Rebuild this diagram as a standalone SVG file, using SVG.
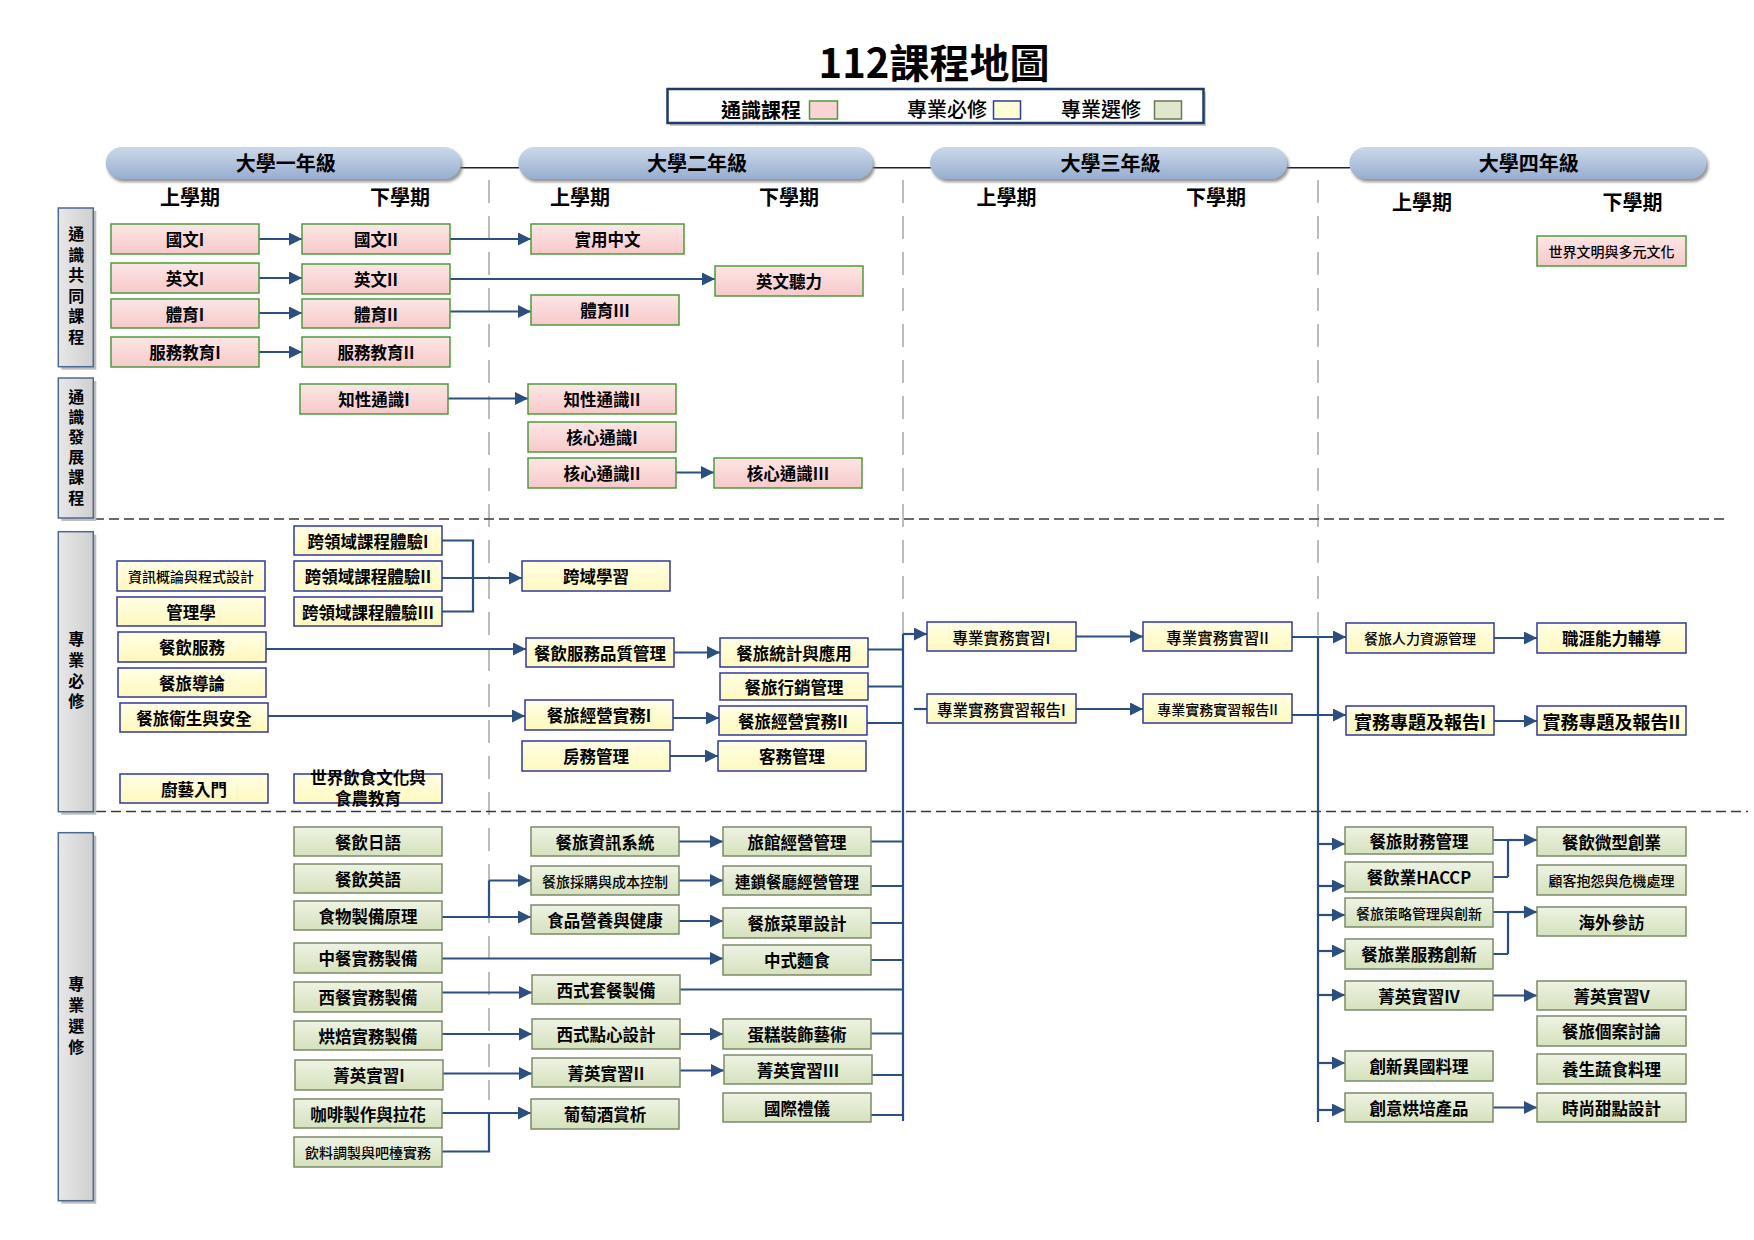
<svg xmlns="http://www.w3.org/2000/svg" width="1754" height="1240" viewBox="0 0 1754 1240">
<style>
text{font-family:"Noto Sans CJK TC","Noto Sans CJK SC",sans-serif;text-anchor:middle;dominant-baseline:central;fill:#000}
.t{font-size:16.5px;font-weight:bold}
.s{font-size:14px;font-weight:500}
.m{font-size:15.5px;font-weight:500}
.hd{font-size:20px;font-weight:bold}
.sd{font-size:16px;font-weight:bold;writing-mode:vertical-rl}
.pk{fill:url(#gPk);stroke:#4f9a3c;stroke-width:1.5}
.yl{fill:url(#gYl);stroke:#2f3a9e;stroke-width:1.5}
.gr{fill:url(#gGr);stroke:#7d8a68;stroke-width:1.5}
.side{fill:url(#gSide);stroke:#4f6a91;stroke-width:1.5}
.sh{fill:#bdbdbd}
.pill{fill:url(#gPill);filter:url(#ds)}
.c{fill:none;stroke:#2b4f81;stroke-width:2.2}
.a{fill:none;stroke:#2b4f81;stroke-width:2.2;marker-end:url(#ar)}
.vd{fill:none;stroke:#a6a6a6;stroke-width:1.5;stroke-dasharray:23 13}
.hdsh{fill:none;stroke:#3a3a3a;stroke-width:1.5;stroke-dasharray:10 5}
.yl2{fill:none;stroke:#222;stroke-width:1.5}
</style>
<defs>
<linearGradient id="gPk" x1="0" y1="0" x2="0" y2="1"><stop offset="0" stop-color="#fde6e6"/><stop offset="1" stop-color="#f7c9c9"/></linearGradient>
<linearGradient id="gYl" x1="0" y1="0" x2="0" y2="1"><stop offset="0" stop-color="#ffffe6"/><stop offset="1" stop-color="#fff8bd"/></linearGradient>
<linearGradient id="gGr" x1="0" y1="0" x2="0" y2="1"><stop offset="0" stop-color="#eef3e3"/><stop offset="1" stop-color="#d5e1bd"/></linearGradient>
<linearGradient id="gSide" x1="0" y1="0" x2="1" y2="0"><stop offset="0" stop-color="#e8e8e8"/><stop offset="1" stop-color="#cfcfcf"/></linearGradient>
<linearGradient id="gPill" x1="0" y1="0" x2="0" y2="1"><stop offset="0" stop-color="#cdd9ea"/><stop offset="1" stop-color="#97aed0"/></linearGradient>
<filter id="ds" x="-5%" y="-30%" width="110%" height="170%"><feDropShadow dx="2" dy="3" stdDeviation="1.5" flood-color="#7a7a7a" flood-opacity="0.8"/></filter>
<marker id="ar" markerUnits="userSpaceOnUse" markerWidth="13" markerHeight="13" refX="13" refY="6.5" orient="auto"><path d="M0,0 L13,6.5 L0,13 z" fill="#2b4f81"/></marker>
</defs>
<rect width="1754" height="1240" fill="#fff"/>

<g id="title">
<text x="934" y="61" style="font-size:40px;font-weight:bold">112課程地圖</text>
</g>

<g id="legend">
<rect x="670" y="92" width="536" height="34" fill="#c8c8c8"/>
<rect x="667.5" y="89" width="536" height="34" fill="#fff" stroke="#1f3a68" stroke-width="2.5"/>
<text x="761" y="109" style="font-size:20px;font-weight:bold">通識課程</text>
<rect x="809.5" y="101" width="28" height="18" fill="#fad4d4" stroke="#4f9a3c" stroke-width="1.5"/>
<text x="947" y="108" style="font-size:20px;font-weight:500">專業必修</text>
<rect x="993.5" y="101" width="27" height="18" fill="#ffffd6" stroke="#2f3a9e" stroke-width="1.5"/>
<text x="1101" y="108" style="font-size:20px;font-weight:500">專業選修</text>
<rect x="1154.5" y="101" width="27" height="18" fill="#dfe7cc" stroke="#6b7658" stroke-width="1.5"/>
</g>

<g id="grid">
<path class="yl2" d="M460,167.7 H519 M873,167.7 H931 M1287,167.7 H1350"/>
<path class="vd" d="M489,180 V1100 M903,180 V634 M1318,180 V637"/>
<path class="hdsh" d="M94,519 H1728 M96,811.5 H1748"/>
</g>

<g id="years">
<g id="y1"><rect class="pill" x="105.7" y="147" width="355" height="32" rx="16"/><text class="hd" x="285.7" y="162.5">大學一年級</text></g>
<g id="y2"><rect class="pill" x="518.3" y="147" width="354.4" height="32" rx="16"/><text class="hd" x="697" y="162.5">大學二年級</text></g>
<g id="y3"><rect class="pill" x="930" y="147" width="357" height="32" rx="16"/><text class="hd" x="1110.5" y="162.5">大學三年級</text></g>
<g id="y4"><rect class="pill" x="1349.4" y="147" width="357" height="32" rx="16"/><text class="hd" x="1528.8" y="162.5">大學四年級</text></g>
<text class="hd" x="190" y="196">上學期</text><text class="hd" x="400" y="196">下學期</text>
<text class="hd" x="580" y="196">上學期</text><text class="hd" x="789" y="196">下學期</text>
<text class="hd" x="1006.6" y="196.7">上學期</text><text class="hd" x="1216" y="196.7">下學期</text>
<text class="hd" x="1422" y="201">上學期</text><text class="hd" x="1632.6" y="201">下學期</text>
</g>

<g id="sides">
<g id="side1"><rect class="sh" x="61.3" y="211" width="35" height="158.7"/><rect class="side" x="58.3" y="208" width="35" height="158.7"/>
<text class="sd" x="76.3" y="287.5" style="letter-spacing:4.5px">通識共同課程</text></g>
<g id="side2"><rect class="sh" x="61.3" y="381" width="35" height="140"/><rect class="side" x="58.3" y="378" width="35" height="140"/>
<text class="sd" x="76.3" y="449.3" style="letter-spacing:4.1px">通識發展課程</text></g>
<g id="side3"><rect class="sh" x="61.3" y="534.7" width="35" height="280"/><rect class="side" x="58.3" y="531.7" width="35" height="280"/>
<text class="sd" x="76.3" y="672.7" style="letter-spacing:4.7px">專業必修</text></g>
<g id="side4"><rect class="sh" x="61.3" y="835.7" width="35" height="368"/><rect class="side" x="58.3" y="832.7" width="35" height="368"/>
<text class="sd" x="76.3" y="1018" style="letter-spacing:5px">專業選修</text></g>
</g>

<g id="connectors">
<path class="a" d="M259,239 H302"/>
<path class="a" d="M259,278 H302"/>
<path class="a" d="M259,313 H302"/>
<path class="a" d="M259,352 H302"/>
<path class="a" d="M450,239 H531"/>
<path class="a" d="M450,279 H715"/>
<path class="a" d="M450,311.5 H531"/>
<path class="a" d="M448,398.5 H528"/>
<path class="a" d="M676,472.5 H714"/>
<path class="c" d="M442,540.5 H473 V611.5 H442"/>
<path class="a" d="M442,578 H522"/>
<path class="a" d="M266,649 H526"/>
<path class="a" d="M268,716 H525"/>
<path class="a" d="M674,652.5 H720"/>
<path class="a" d="M673,718 H719"/>
<path class="a" d="M670,756 H718"/>
<path class="c" d="M868,649.5 H903 M868,686.5 H903 M867,723 H903 M903,634 V1121"/>
<path class="a" d="M903,634 H927"/>
<path class="c" d="M914,709 H927"/>
<path class="a" d="M1076,636.5 H1143"/>
<path class="a" d="M1076,709 H1143"/>
<path class="a" d="M1292,637 H1346"/>
<path class="c" d="M1318,637 V1122"/>
<path class="a" d="M1292,715 H1346"/>
<path class="a" d="M1494,638 H1537"/>
<path class="a" d="M1494,721 H1537"/>
<path class="c" d="M442,917 H489 V880.5"/>
<path class="a" d="M489,880.5 H531"/>
<path class="a" d="M489,917 H531"/>
<path class="a" d="M442,958.5 H723"/>
<path class="a" d="M442,992.5 H532"/>
<path class="a" d="M442,1034 H532"/>
<path class="a" d="M443,1073.5 H532"/>
<path class="a" d="M442,1113 H531"/>
<path class="c" d="M442,1151.5 H489 V1113"/>
<path class="a" d="M679,841.5 H723"/>
<path class="a" d="M679,880.5 H723"/>
<path class="a" d="M679,921 H723"/>
<path class="a" d="M680,1034 H723"/>
<path class="a" d="M680,1070.5 H724"/>
<path class="c" d="M871,841.5 H903 M871,886 H903 M871,923 H903 M871,960 H903 M680,989.5 H903 M871,1033.5 H903 M872,1075 H903 M871,1115 H903"/>
<path class="a" d="M1318,844 H1345"/>
<path class="a" d="M1318,886 H1345"/>
<path class="a" d="M1318,915 H1345"/>
<path class="a" d="M1318,951 H1345"/>
<path class="a" d="M1318,995 H1345"/>
<path class="a" d="M1318,1063 H1345"/>
<path class="a" d="M1318,1110 H1345"/>
<path class="c" d="M1493,840 H1508 M1493,877 H1508 M1508,840 V877"/>
<path class="a" d="M1508,840 H1537"/>
<path class="c" d="M1493,912 H1508 M1493,954 H1508 M1508,912 V954"/>
<path class="a" d="M1508,912 H1537"/>
<path class="a" d="M1493,995.5 H1537"/>
<path class="a" d="M1493,1107.5 H1537"/>
</g>

<g id="general">
<g id="g-chinese1"><rect class="pk" x="111" y="224" width="148" height="30"/><text class="t" x="185" y="239">國文I</text></g>
<g id="g-chinese2"><rect class="pk" x="302" y="224" width="148" height="30"/><text class="t" x="376" y="239">國文II</text></g>
<g id="g-pchinese"><rect class="pk" x="531" y="224" width="153" height="30"/><text class="t" x="607.5" y="239">實用中文</text></g>
<g id="g-eng1"><rect class="pk" x="111" y="263" width="148" height="30"/><text class="t" x="185" y="278">英文I</text></g>
<g id="g-eng2"><rect class="pk" x="302" y="264" width="148" height="30"/><text class="t" x="376" y="279">英文II</text></g>
<g id="g-listen"><rect class="pk" x="715" y="266" width="148" height="30"/><text class="t" x="789" y="281">英文聽力</text></g>
<g id="g-pe1"><rect class="pk" x="111" y="299" width="148" height="29"/><text class="t" x="185" y="313.5">體育I</text></g>
<g id="g-pe2"><rect class="pk" x="302" y="299" width="148" height="29"/><text class="t" x="376" y="313.5">體育II</text></g>
<g id="g-pe3"><rect class="pk" x="531" y="295" width="148" height="30"/><text class="t" x="605" y="310">體育III</text></g>
<g id="g-serv1"><rect class="pk" x="111" y="337" width="148" height="30"/><text class="t" x="185" y="352">服務教育I</text></g>
<g id="g-serv2"><rect class="pk" x="302" y="337" width="148" height="30"/><text class="t" x="376" y="352">服務教育II</text></g>
<g id="g-world"><rect class="pk" x="1537" y="236" width="149" height="30"/><text class="s" x="1611.5" y="251">世界文明與多元文化</text></g>
<g id="g-intel1"><rect class="pk" x="300" y="384" width="148" height="30"/><text class="t" x="374" y="399">知性通識I</text></g>
<g id="g-intel2"><rect class="pk" x="528" y="384" width="148" height="30"/><text class="t" x="602" y="399">知性通識II</text></g>
<g id="g-core1"><rect class="pk" x="528" y="422" width="148" height="30"/><text class="t" x="602" y="437">核心通識I</text></g>
<g id="g-core2"><rect class="pk" x="528" y="458" width="148" height="30"/><text class="t" x="602" y="473">核心通識II</text></g>
<g id="g-core3"><rect class="pk" x="714" y="458" width="148" height="30"/><text class="t" x="788" y="473">核心通識III</text></g>
</g>

<g id="required">
<g id="r-info"><rect class="yl" x="117" y="561" width="148" height="30"/><text class="s" x="191" y="576">資訊概論與程式設計</text></g>
<g id="r-mgmt"><rect class="yl" x="117" y="597" width="148" height="29"/><text class="t" x="191" y="611.5">管理學</text></g>
<g id="r-fbs"><rect class="yl" x="118" y="632" width="148" height="30"/><text class="t" x="192" y="647">餐飲服務</text></g>
<g id="r-intro"><rect class="yl" x="118" y="668" width="148" height="29"/><text class="t" x="192" y="682.5">餐旅導論</text></g>
<g id="r-hyg"><rect class="yl" x="120" y="703" width="148" height="29"/><text class="t" x="194" y="717.5">餐旅衛生與安全</text></g>
<g id="r-culin"><rect class="yl" x="120" y="774" width="148" height="29"/><text class="t" x="194" y="788.5">廚藝入門</text></g>
<g id="r-cross1"><rect class="yl" x="294" y="526" width="148" height="29"/><text class="t" x="368" y="540.5">跨領域課程體驗I</text></g>
<g id="r-cross2"><rect class="yl" x="294" y="561" width="148" height="30"/><text class="t" x="368" y="576">跨領域課程體驗II</text></g>
<g id="r-cross3"><rect class="yl" x="294" y="597" width="148" height="29"/><text class="t" x="368" y="611.5">跨領域課程體驗III</text></g>
<g id="r-foodcult"><rect class="yl" x="294" y="774" width="148" height="29"/><text class="t" x="368" y="777">世界飲食文化與</text><text class="t" x="368" y="798">食農教育</text></g>
<g id="r-crossl"><rect class="yl" x="522" y="561" width="148" height="30"/><text class="t" x="596" y="576">跨域學習</text></g>
<g id="r-quality"><rect class="yl" x="526" y="638" width="148" height="29"/><text class="t" x="600" y="652.5">餐飲服務品質管理</text></g>
<g id="r-ops1"><rect class="yl" x="525" y="700" width="148" height="30"/><text class="t" x="599" y="715">餐旅經營實務I</text></g>
<g id="r-house"><rect class="yl" x="522" y="741" width="148" height="30"/><text class="t" x="596" y="756">房務管理</text></g>
<g id="r-stat"><rect class="yl" x="720" y="638" width="148" height="29"/><text class="t" x="794" y="652.5">餐旅統計與應用</text></g>
<g id="r-mkt"><rect class="yl" x="720" y="673" width="148" height="27"/><text class="t" x="794" y="686.5">餐旅行銷管理</text></g>
<g id="r-ops2"><rect class="yl" x="719" y="706" width="148" height="29"/><text class="t" x="793" y="720.5">餐旅經營實務II</text></g>
<g id="r-front"><rect class="yl" x="718" y="741" width="148" height="30"/><text class="t" x="792" y="756">客務管理</text></g>
<g id="r-intern1"><rect class="yl" x="927" y="622" width="149" height="29"/><text class="m" x="1001.5" y="636.5">專業實務實習I</text></g>
<g id="r-intern2"><rect class="yl" x="1143" y="622" width="149" height="29"/><text class="m" x="1217.5" y="636.5">專業實務實習II</text></g>
<g id="r-report1"><rect class="yl" x="927" y="694" width="149" height="29"/><text class="m" x="1001.5" y="708.5">專業實務實習報告I</text></g>
<g id="r-report2"><rect class="yl" x="1143" y="694" width="149" height="29"/><text class="s" x="1217.5" y="708.5">專業實務實習報告II</text></g>
<g id="r-hr"><rect class="yl" x="1346" y="623" width="148" height="30"/><text class="s" x="1420" y="638">餐旅人力資源管理</text></g>
<g id="r-career"><rect class="yl" x="1537" y="623" width="149" height="30"/><text class="t" x="1611.5" y="638">職涯能力輔導</text></g>
<g id="r-proj1"><rect class="yl" x="1346" y="706" width="148" height="29"/><text class="t" x="1420" y="720.5" style="font-size:18px">實務專題及報告I</text></g>
<g id="r-proj2"><rect class="yl" x="1537" y="706" width="149" height="29"/><text class="t" x="1611.5" y="720.5" style="font-size:18px">實務專題及報告II</text></g>
</g>

<g id="electives">
<g id="e-jp"><rect class="gr" x="294" y="827" width="148" height="29"/><text class="t" x="368" y="841.5">餐飲日語</text></g>
<g id="e-en"><rect class="gr" x="294" y="864" width="148" height="29"/><text class="t" x="368" y="878.5">餐飲英語</text></g>
<g id="e-prep"><rect class="gr" x="294" y="901" width="148" height="29"/><text class="t" x="368" y="915.5">食物製備原理</text></g>
<g id="e-cn"><rect class="gr" x="294" y="943" width="148" height="30"/><text class="t" x="368" y="958">中餐實務製備</text></g>
<g id="e-west"><rect class="gr" x="294" y="982" width="148" height="30"/><text class="t" x="368" y="997">西餐實務製備</text></g>
<g id="e-bake"><rect class="gr" x="294" y="1021" width="148" height="29"/><text class="t" x="368" y="1035.5">烘焙實務製備</text></g>
<g id="e-elite1"><rect class="gr" x="295" y="1060" width="148" height="30"/><text class="t" x="369" y="1075">菁英實習I</text></g>
<g id="e-coffee"><rect class="gr" x="294" y="1099" width="148" height="29"/><text class="t" x="368" y="1113.5">咖啡製作與拉花</text></g>
<g id="e-bar"><rect class="gr" x="294" y="1137" width="148" height="30"/><text class="s" x="368" y="1152">飲料調製與吧檯實務</text></g>
<g id="e-is"><rect class="gr" x="531" y="827" width="148" height="29"/><text class="t" x="605" y="841.5">餐旅資訊系統</text></g>
<g id="e-purch"><rect class="gr" x="531" y="866" width="148" height="29"/><text class="s" x="605" y="880.5">餐旅採購與成本控制</text></g>
<g id="e-nutr"><rect class="gr" x="531" y="905" width="148" height="29"/><text class="t" x="605" y="919.5">食品營養與健康</text></g>
<g id="e-set"><rect class="gr" x="532" y="975" width="148" height="29"/><text class="t" x="606" y="989.5">西式套餐製備</text></g>
<g id="e-dessert"><rect class="gr" x="532" y="1019" width="148" height="30"/><text class="t" x="606" y="1034">西式點心設計</text></g>
<g id="e-elite2"><rect class="gr" x="532" y="1058" width="148" height="29"/><text class="t" x="606" y="1072.5">菁英實習II</text></g>
<g id="e-wine"><rect class="gr" x="531" y="1099" width="148" height="30"/><text class="t" x="605" y="1114">葡萄酒賞析</text></g>
<g id="e-hotel"><rect class="gr" x="723" y="827" width="148" height="29"/><text class="t" x="797" y="841.5">旅館經營管理</text></g>
<g id="e-chain"><rect class="gr" x="723" y="866" width="148" height="29"/><text class="t" x="797" y="880.5" style="font-size:15.5px">連鎖餐廳經營管理</text></g>
<g id="e-menu"><rect class="gr" x="723" y="908" width="148" height="30"/><text class="t" x="797" y="923">餐旅菜單設計</text></g>
<g id="e-noodle"><rect class="gr" x="723" y="945" width="148" height="30"/><text class="t" x="797" y="960">中式麵食</text></g>
<g id="e-cake"><rect class="gr" x="723" y="1019" width="148" height="30"/><text class="t" x="797" y="1034">蛋糕裝飾藝術</text></g>
<g id="e-elite3"><rect class="gr" x="724" y="1055" width="148" height="29"/><text class="t" x="798" y="1069.5">菁英實習III</text></g>
<g id="e-etiq"><rect class="gr" x="723" y="1093" width="148" height="29"/><text class="t" x="797" y="1107.5">國際禮儀</text></g>
<g id="e-fin"><rect class="gr" x="1345" y="827" width="148" height="27"/><text class="t" x="1419" y="840.5">餐旅財務管理</text></g>
<g id="e-haccp"><rect class="gr" x="1345" y="862" width="148" height="30"/><text class="t" x="1419" y="877">餐飲業HACCP</text></g>
<g id="e-strat"><rect class="gr" x="1345" y="898" width="148" height="29"/><text class="s" x="1419" y="912.5">餐旅策略管理與創新</text></g>
<g id="e-innov"><rect class="gr" x="1345" y="939" width="148" height="30"/><text class="t" x="1419" y="954">餐旅業服務創新</text></g>
<g id="e-elite4"><rect class="gr" x="1345" y="981" width="148" height="29"/><text class="t" x="1419" y="995.5">菁英實習IV</text></g>
<g id="e-exotic"><rect class="gr" x="1345" y="1051" width="148" height="30"/><text class="t" x="1419" y="1066">創新異國料理</text></g>
<g id="e-cbake"><rect class="gr" x="1345" y="1093" width="148" height="29"/><text class="t" x="1419" y="1107.5">創意烘培產品</text></g>
<g id="e-micro"><rect class="gr" x="1537" y="827" width="149" height="29"/><text class="t" x="1611.5" y="841.5">餐飲微型創業</text></g>
<g id="e-complain"><rect class="gr" x="1537" y="865" width="149" height="30"/><text class="s" x="1611.5" y="880">顧客抱怨與危機處理</text></g>
<g id="e-abroad"><rect class="gr" x="1537" y="907" width="149" height="29"/><text class="t" x="1611.5" y="921.5">海外參訪</text></g>
<g id="e-elite5"><rect class="gr" x="1537" y="981" width="149" height="29"/><text class="t" x="1611.5" y="995.5">菁英實習V</text></g>
<g id="e-case"><rect class="gr" x="1537" y="1016" width="149" height="30"/><text class="t" x="1611.5" y="1031">餐旅個案討論</text></g>
<g id="e-veg"><rect class="gr" x="1537" y="1054" width="149" height="30"/><text class="t" x="1611.5" y="1069">養生蔬食料理</text></g>
<g id="e-sweet"><rect class="gr" x="1537" y="1093" width="149" height="29"/><text class="t" x="1611.5" y="1107.5">時尚甜點設計</text></g>
</g>
</svg>
